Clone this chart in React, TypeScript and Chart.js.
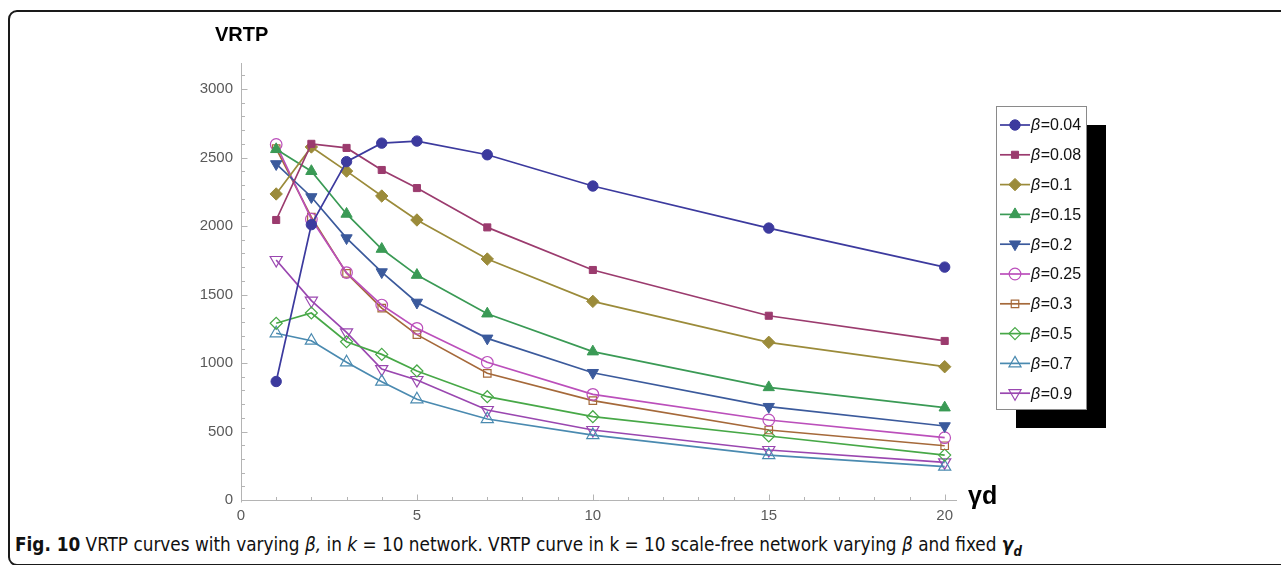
import React, { useEffect, useRef } from 'react';
import { Chart, registerables } from 'chart.js';

Chart.register(...registerables);

// ---- data ----
const gammaD = [1, 2, 3, 4, 5, 7, 10, 15, 20];
const betaLabels = ['0.04', '0.08', '0.1', '0.15', '0.2', '0.25', '0.3', '0.5', '0.7', '0.9'];
const vrtpB004 = [865, 2010, 2470, 2605, 2620, 2520, 2292, 1985, 1700];
const vrtpB008 = [2044, 2600, 2570, 2409, 2277, 1990, 1679, 1345, 1161];
const vrtpB01 = [2234, 2577, 2401, 2219, 2044, 1759, 1450, 1151, 973];
const vrtpB015 = [2560, 2400, 2088, 1832, 1642, 1360, 1083, 822, 674];
const vrtpB02 = [2453, 2212, 1912, 1664, 1442, 1180, 929, 681, 540];
const vrtpB025 = [2595, 2050, 1660, 1423, 1253, 1005, 771, 584, 455];
const vrtpB03 = [2565, 2065, 1655, 1401, 1207, 925, 725, 511, 396];
const vrtpB05 = [1290, 1365, 1155, 1063, 942, 754, 608, 467, 328];
const vrtpB07 = [1217, 1163, 1005, 864, 735, 591, 474, 328, 243];
const vrtpB09 = [1752, 1455, 1224, 956, 876, 657, 511, 365, 275];
const seriesValues = [vrtpB004, vrtpB008, vrtpB01, vrtpB015, vrtpB02, vrtpB025, vrtpB03, vrtpB05, vrtpB07, vrtpB09];

const yTickLabels = [0, 500, 1000, 1500, 2000, 2500, 3000];
const xTickLabels = [0, 5, 10, 15, 20];

// ---- styles ----
const colors = ['#3c3a9e', '#9b3b6e', '#9b8b3a', '#3a9a55', '#3b5a9c', '#bb4fbb', '#a5693a', '#47a847', '#4a8ab0', '#9a47b0'];
const markerStyles = ['circle', 'rect', 'rectRot', 'triangle', 'triangle', 'circle', 'rect', 'rectRot', 'triangle', 'triangle'];
const markerRotations = [0, 0, 0, 0, 180, 0, 0, 0, 0, 180];
const markerFilled = [true, true, true, true, true, false, false, false, false, false];
const markerRadius = [5.2, 5, 6.2, 6.5, 6.5, 5.8, 5.3, 6, 7, 7];

const tickFont = { size: 15, family: '"Liberation Sans", Arial, sans-serif' };

function drawMarker(ctx: CanvasRenderingContext2D, style: string, rot: number, r: number, x: number, y: number, filled: boolean, color: string) {
  ctx.save();
  ctx.fillStyle = filled ? color : 'rgba(0,0,0,0)';
  ctx.strokeStyle = color;
  ctx.lineWidth = filled ? 1 : 1.2;
  ctx.beginPath();
  if (style === 'circle') {
    ctx.arc(x, y, r, 0, Math.PI * 2);
  } else if (style === 'rect') {
    const s = r * Math.SQRT1_2;
    ctx.rect(x - s, y - s, 2 * s, 2 * s);
  } else if (style === 'rectRot') {
    ctx.moveTo(x, y - r);
    ctx.lineTo(x + r, y);
    ctx.lineTo(x, y + r);
    ctx.lineTo(x - r, y);
    ctx.closePath();
  } else {
    let a = (rot * Math.PI) / 180;
    ctx.moveTo(x + Math.sin(a) * r, y - Math.cos(a) * r);
    a += (2 * Math.PI) / 3;
    ctx.lineTo(x + Math.sin(a) * r, y - Math.cos(a) * r);
    a += (2 * Math.PI) / 3;
    ctx.lineTo(x + Math.sin(a) * r, y - Math.cos(a) * r);
    ctx.closePath();
  }
  ctx.fill();
  ctx.stroke();
  ctx.restore();
}

const axesPlugin = {
  id: 'mmaAxes',
  beforeDatasetsDraw(chart: any) {
    const { ctx, chartArea } = chart;
    const xs = chart.scales.x;
    const ys = chart.scales.y;
    const x0 = Math.round(xs.getPixelForValue(0)) + 0.5;
    const y0 = Math.round(ys.getPixelForValue(0)) + 0.5;
    ctx.save();
    ctx.strokeStyle = '#b4b4b4';
    ctx.lineWidth = 1;
    ctx.beginPath();
    ctx.moveTo(x0, y0 + 2);
    ctx.lineTo(x0, chartArea.top);
    ctx.moveTo(x0, y0);
    ctx.lineTo(chartArea.right, y0);
    for (let v = 0; v <= 3100; v += 100) {
      const py = Math.round(ys.getPixelForValue(v)) + 0.5;
      const len = v % 500 === 0 ? 6 : 3.5;
      ctx.moveTo(x0, py);
      ctx.lineTo(x0 + len, py);
    }
    for (let v = 0; v <= 20; v += 1) {
      const px = Math.round(xs.getPixelForValue(v)) + 0.5;
      const len = v % 5 === 0 ? 6 : 3.5;
      ctx.moveTo(px, y0);
      ctx.lineTo(px, y0 - len);
    }
    ctx.stroke();
    ctx.restore();
  },
};

const legendPlugin = {
  id: 'boxLegend',
  afterDraw(chart: any) {
    const { ctx } = chart;
    const left = 996;
    const top = 106;
    const w = 90;
    const h = 303;
    ctx.save();
    ctx.fillStyle = '#000';
    ctx.fillRect(left + 20, top + 19, w, h);
    ctx.fillStyle = '#fff';
    ctx.fillRect(left, top, w, h);
    ctx.strokeStyle = '#8a8a8a';
    ctx.lineWidth = 1;
    ctx.strokeRect(left + 0.5, top + 0.5, w, h);
    const rowH = 29.8;
    betaLabels.forEach((lab, i) => {
      const y = top + 19 + i * rowH;
      ctx.strokeStyle = colors[i];
      ctx.lineWidth = 1.7;
      ctx.beginPath();
      ctx.moveTo(left + 4, y);
      ctx.lineTo(left + 34, y);
      ctx.stroke();
      drawMarker(ctx, markerStyles[i], markerRotations[i], markerRadius[i], left + 19, y, markerFilled[i], colors[i]);
      ctx.fillStyle = '#111';
      ctx.textBaseline = 'middle';
      ctx.textAlign = 'left';
      ctx.font = 'italic 16px "Liberation Sans", Arial, sans-serif';
      const bx = left + 35;
      ctx.fillText('β', bx, y + 1);
      const bw = ctx.measureText('β').width;
      ctx.font = '16px "Liberation Sans", Arial, sans-serif';
      ctx.fillText('=' + lab, bx + bw + 0.5, y + 1);
    });
    ctx.restore();
  },
};

export default function App() {
  const canvasRef = useRef<HTMLCanvasElement | null>(null);

  useEffect(() => {
    if (!canvasRef.current) return;
    const datasets = betaLabels.map((lab, i) => ({
      label: 'β=' + lab,
      data: gammaD.map((g, j) => ({ x: g, y: seriesValues[i][j] })),
      borderColor: colors[i],
      backgroundColor: markerFilled[i] ? colors[i] : 'rgba(0,0,0,0)',
      pointBackgroundColor: markerFilled[i] ? colors[i] : 'rgba(0,0,0,0)',
      pointBorderColor: colors[i],
      pointBorderWidth: markerFilled[i] ? 1 : 1.2,
      pointStyle: markerStyles[i],
      pointRotation: markerRotations[i],
      pointRadius: markerRadius[i],
      pointHoverRadius: markerRadius[i],
      borderWidth: 1.7,
      tension: 0,
      fill: false,
      clip: false as any,
    }));
    const chart = new Chart(canvasRef.current, {
      type: 'line',
      data: { datasets },
      plugins: [axesPlugin, legendPlugin],
      options: {
        animation: false,
        responsive: false,
        devicePixelRatio: 1,
        events: [],
        layout: { padding: { left: 0, top: 63, right: 324, bottom: 0 } },
        plugins: { legend: { display: false }, tooltip: { enabled: false } },
        scales: {
          x: {
            type: 'linear',
            min: 0,
            max: 20.35,
            afterFit: (s: any) => { s.height = 30; },
            afterBuildTicks: (s: any) => { s.ticks = xTickLabels.map((v) => ({ value: v })); },
            grid: { display: false, drawTicks: false },
            border: { display: false },
            ticks: { color: '#5a5a5a', font: tickFont, padding: 7, maxRotation: 0, callback: (v: any) => String(v) },
          },
          y: {
            type: 'linear',
            min: 0,
            max: 3190,
            afterFit: (s: any) => { s.width = 241; },
            afterBuildTicks: (s: any) => { s.ticks = yTickLabels.map((v) => ({ value: v })); },
            grid: { display: false, drawTicks: false },
            border: { display: false },
            ticks: { color: '#5a5a5a', font: tickFont, padding: 8, callback: (v: any) => String(v) },
          },
        },
      },
    });
    return () => chart.destroy();
  }, []);

  return (
    <div style={{ position: 'absolute', left: 0, top: 0, width: 1281, height: 565, overflow: 'hidden', background: '#fff' }}>
      <div
        style={{
          position: 'absolute',
          left: 8,
          top: 10,
          width: 1300,
          height: 556,
          border: '2px solid #1a1a1a',
          borderRadius: 9,
          boxSizing: 'border-box',
        }}
      />
      <canvas
        ref={canvasRef}
        width={1281}
        height={530}
        style={{ position: 'absolute', left: 0, top: 0, width: 1281, height: 530 }}
      />
      <div
        style={{
          position: 'absolute',
          left: 215,
          top: 23,
          font: 'bold 20px "Liberation Sans", Arial, sans-serif',
          color: '#000',
        }}
      >
        VRTP
      </div>
      <div
        style={{
          position: 'absolute',
          left: 968,
          top: 481,
          font: 'bold 25px "Liberation Sans", Arial, sans-serif',
          color: '#000',
        }}
      >
        γd
      </div>
      <div
        style={{
          position: 'absolute',
          left: 15,
          top: 534,
          whiteSpace: 'nowrap',
          font: '18.8px "Liberation Sans Narrow", "DejaVu Sans Condensed", "Liberation Sans", Arial, sans-serif',
          color: '#111',
        }}
      >
        <b>Fig. 10</b> VRTP curves with varying <i>β,</i> in <i>k</i> = 10 network. VRTP curve in k = 10 scale-free network varying <i>β</i> and fixed{' '}
        <b>
          <i>
            γ<sub style={{ fontSize: '70%' }}>d</sub>
          </i>
        </b>
      </div>
    </div>
  );
}
